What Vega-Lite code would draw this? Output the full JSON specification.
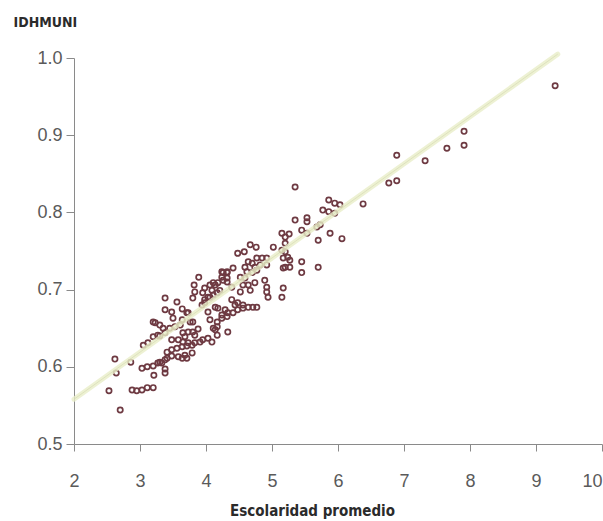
{
  "$schema": "https://vega.github.io/schema/vega-lite/v6.json",
  "autosize": {"type": "none"},
  "width": 528,
  "height": 386,
  "padding": {"left": 74, "top": 58, "right": 1, "bottom": 77},
  "background": "white",
  "config": {
    "view": {"stroke": null},
    "axis": {"grid": false, "domainColor": "#8a8a8a", "tickColor": "#8a8a8a", "labelColor": "#5a5a5a", "labelFont": "Liberation Sans, Arial, sans-serif", "labelFontSize": 18, "titleFont": "DejaVu Sans Condensed, Liberation Sans Narrow, Roboto Condensed, Liberation Sans, sans-serif", "titleFontWeight": "bold", "titleColor": "#2b2b2b"}
  },
  "layer": [
    {
      "data": {"values": [
        {"esc":2.62,"idh":0.610},{"esc":2.64,"idh":0.592},{"esc":2.53,"idh":0.569},{"esc":2.70,"idh":0.544},{"esc":2.86,"idh":0.606},
        {"esc":2.88,"idh":0.570},{"esc":2.95,"idh":0.569},{"esc":3.03,"idh":0.570},{"esc":3.11,"idh":0.573},{"esc":3.20,"idh":0.573},
        {"esc":3.21,"idh":0.589},{"esc":3.38,"idh":0.592},{"esc":3.38,"idh":0.597},{"esc":3.03,"idh":0.598},{"esc":3.11,"idh":0.600},
        {"esc":3.20,"idh":0.601},{"esc":3.27,"idh":0.605},{"esc":3.33,"idh":0.605},{"esc":3.05,"idh":0.628},{"esc":3.12,"idh":0.631},
        {"esc":3.20,"idh":0.639},{"esc":3.27,"idh":0.641},{"esc":3.38,"idh":0.644},{"esc":3.45,"idh":0.650},{"esc":3.53,"idh":0.652},
        {"esc":3.61,"idh":0.654},{"esc":3.23,"idh":0.657},{"esc":3.30,"idh":0.654},{"esc":3.41,"idh":0.619},{"esc":3.48,"idh":0.622},
        {"esc":3.56,"idh":0.624},{"esc":3.64,"idh":0.626},{"esc":3.71,"idh":0.627},{"esc":3.79,"idh":0.628},{"esc":3.83,"idh":0.631},
        {"esc":3.91,"idh":0.632},{"esc":3.41,"idh":0.611},{"esc":3.48,"idh":0.614},{"esc":3.58,"idh":0.613},{"esc":3.68,"idh":0.615},
        {"esc":3.79,"idh":0.618},{"esc":3.48,"idh":0.635},{"esc":3.58,"idh":0.635},{"esc":3.68,"idh":0.639},{"esc":3.83,"idh":0.641},
        {"esc":3.89,"idh":0.716},{"esc":3.82,"idh":0.706},{"esc":3.83,"idh":0.697},{"esc":3.38,"idh":0.689},{"esc":3.56,"idh":0.684},
        {"esc":3.38,"idh":0.674},{"esc":3.48,"idh":0.671},{"esc":3.64,"idh":0.675},{"esc":3.71,"idh":0.670},{"esc":3.76,"idh":0.658},
        {"esc":3.80,"idh":0.658},{"esc":3.50,"idh":0.663},{"esc":3.64,"idh":0.661},{"esc":3.20,"idh":0.658},{"esc":3.35,"idh":0.650},
        {"esc":3.30,"idh":0.640},{"esc":3.98,"idh":0.683},{"esc":4.03,"idh":0.671},{"esc":4.06,"idh":0.661},{"esc":4.11,"idh":0.650},
        {"esc":4.17,"idh":0.658},{"esc":4.24,"idh":0.663},{"esc":4.32,"idh":0.665},{"esc":4.06,"idh":0.706},{"esc":4.11,"idh":0.709},
        {"esc":4.18,"idh":0.709},{"esc":4.17,"idh":0.696},{"esc":4.21,"idh":0.699},{"esc":4.26,"idh":0.722},{"esc":4.32,"idh":0.722},
        {"esc":4.26,"idh":0.712},{"esc":4.32,"idh":0.710},{"esc":3.95,"idh":0.696},{"esc":3.98,"idh":0.687},{"esc":4.06,"idh":0.690},
        {"esc":4.14,"idh":0.648},{"esc":4.17,"idh":0.641},{"esc":4.67,"idh":0.758},{"esc":4.76,"idh":0.755},{"esc":5.02,"idh":0.755},
        {"esc":4.48,"idh":0.747},{"esc":4.58,"idh":0.749},{"esc":4.77,"idh":0.741},{"esc":4.85,"idh":0.741},{"esc":4.92,"idh":0.741},
        {"esc":4.64,"idh":0.736},{"esc":4.70,"idh":0.734},{"esc":4.59,"idh":0.729},{"esc":4.74,"idh":0.729},{"esc":4.82,"idh":0.732},
        {"esc":4.92,"idh":0.732},{"esc":4.62,"idh":0.723},{"esc":4.70,"idh":0.722},{"esc":4.77,"idh":0.725},{"esc":4.24,"idh":0.723},
        {"esc":4.32,"idh":0.723},{"esc":4.41,"idh":0.728},{"esc":4.24,"idh":0.716},{"esc":4.32,"idh":0.715},{"esc":4.52,"idh":0.716},
        {"esc":4.59,"idh":0.715},{"esc":4.56,"idh":0.706},{"esc":4.52,"idh":0.697},{"esc":4.64,"idh":0.706},{"esc":4.67,"idh":0.699},
        {"esc":4.14,"idh":0.706},{"esc":3.98,"idh":0.702},{"esc":4.09,"idh":0.699},{"esc":4.39,"idh":0.703},{"esc":3.80,"idh":0.689},
        {"esc":4.03,"idh":0.690},{"esc":4.11,"idh":0.693},{"esc":4.89,"idh":0.712},{"esc":4.92,"idh":0.703},{"esc":4.92,"idh":0.697},
        {"esc":4.94,"idh":0.690},{"esc":4.74,"idh":0.709},{"esc":5.15,"idh":0.773},{"esc":5.15,"idh":0.751},{"esc":5.17,"idh":0.741},
        {"esc":5.17,"idh":0.728},{"esc":5.17,"idh":0.702},{"esc":5.15,"idh":0.690},{"esc":4.39,"idh":0.687},{"esc":4.44,"idh":0.680},
        {"esc":4.48,"idh":0.674},{"esc":4.56,"idh":0.676},{"esc":4.64,"idh":0.677},{"esc":4.71,"idh":0.677},{"esc":4.77,"idh":0.677},
        {"esc":4.18,"idh":0.676},{"esc":4.29,"idh":0.674},{"esc":4.33,"idh":0.670},{"esc":4.24,"idh":0.667},{"esc":5.35,"idh":0.833},
        {"esc":5.86,"idh":0.816},{"esc":5.95,"idh":0.812},{"esc":6.03,"idh":0.810},{"esc":5.77,"idh":0.803},{"esc":5.86,"idh":0.801},
        {"esc":5.95,"idh":0.799},{"esc":5.53,"idh":0.793},{"esc":5.53,"idh":0.788},{"esc":5.35,"idh":0.790},{"esc":5.45,"idh":0.777},
        {"esc":5.53,"idh":0.773},{"esc":5.68,"idh":0.781},{"esc":5.73,"idh":0.784},{"esc":5.26,"idh":0.772},{"esc":5.20,"idh":0.768},
        {"esc":5.88,"idh":0.773},{"esc":5.70,"idh":0.764},{"esc":6.06,"idh":0.766},{"esc":5.20,"idh":0.760},{"esc":5.20,"idh":0.749},
        {"esc":5.24,"idh":0.742},{"esc":5.27,"idh":0.738},{"esc":5.20,"idh":0.729},{"esc":5.27,"idh":0.729},{"esc":5.45,"idh":0.736},
        {"esc":5.45,"idh":0.722},{"esc":5.70,"idh":0.729},{"esc":6.38,"idh":0.811},{"esc":9.29,"idh":0.964},{"esc":7.91,"idh":0.905},
        {"esc":7.91,"idh":0.887},{"esc":7.65,"idh":0.883},{"esc":7.32,"idh":0.867},{"esc":6.89,"idh":0.874},{"esc":6.89,"idh":0.841},
        {"esc":6.77,"idh":0.838},{"esc":3.73,"idh":0.670},{"esc":3.94,"idh":0.680},{"esc":4.14,"idh":0.677},{"esc":4.41,"idh":0.670},
        {"esc":4.48,"idh":0.683},{"esc":4.56,"idh":0.680},{"esc":4.17,"idh":0.652},{"esc":4.33,"idh":0.645},{"esc":3.65,"idh":0.644},
        {"esc":3.73,"idh":0.645},{"esc":3.80,"idh":0.645},{"esc":3.88,"idh":0.649},{"esc":3.95,"idh":0.635},{"esc":4.03,"idh":0.637},
        {"esc":4.09,"idh":0.632},{"esc":3.65,"idh":0.632},{"esc":3.73,"idh":0.631},{"esc":3.64,"idh":0.611},{"esc":3.71,"idh":0.611},
        {"esc":3.38,"idh":0.609},{"esc":3.30,"idh":0.606}
      ]},
      "mark": {"type": "point", "shape": "circle", "filled": false, "size": 28, "strokeWidth": 1.7, "color": "#6e3a42", "opacity": 1},
      "encoding": {
        "x": {"field": "esc", "type": "quantitative",
              "scale": {"domain": [2, 10], "nice": false, "zero": false},
              "axis": {"values": [2,3,4,5,6,7,8,9,10], "format": "d", "title": "Escolaridad promedio", "titleFontSize": 15,
                       "titleX": 238, "titleY": 71, "titleBaseline": "alphabetic", "titleAnchor": "middle", "titleAlign": "center",
                       "tickSize": 7, "labelPadding": 21,
                       "labelAlign": {"condition": {"test": "datum.value == 10", "value": "right"}, "value": "center"}}},
        "y": {"field": "idh", "type": "quantitative",
              "scale": {"domain": [0.5, 1.0], "nice": false, "zero": false},
              "axis": {"values": [0.5,0.6,0.7,0.8,0.9,1.0], "format": ".1f", "title": "IDHMUNI", "titleFontSize": 14,
                       "titleAngle": 0, "titleAlign": "left", "titleX": -61, "titleY": -32, "titleBaseline": "alphabetic",
                       "tickSize": 8, "labelPadding": 4}}
      }
    },
    {
      "data": {"values": [{"esc": 2.0, "idh": 0.558}, {"esc": 9.33, "idh": 1.005}]},
      "mark": {"type": "line", "color": "#e8eec8", "strokeWidth": 5, "opacity": 0.8, "strokeCap": "round"},
      "encoding": {
        "x": {"field": "esc", "type": "quantitative"},
        "y": {"field": "idh", "type": "quantitative"}
      }
    },
    {
      "data": {"values": [{"esc": 2.0, "idh": 0.558}, {"esc": 9.33, "idh": 1.005}]},
      "mark": {"type": "line", "color": "#d3d9ae", "strokeWidth": 1, "opacity": 0.6},
      "encoding": {
        "x": {"field": "esc", "type": "quantitative"},
        "y": {"field": "idh", "type": "quantitative"}
      }
    }
  ]
}
